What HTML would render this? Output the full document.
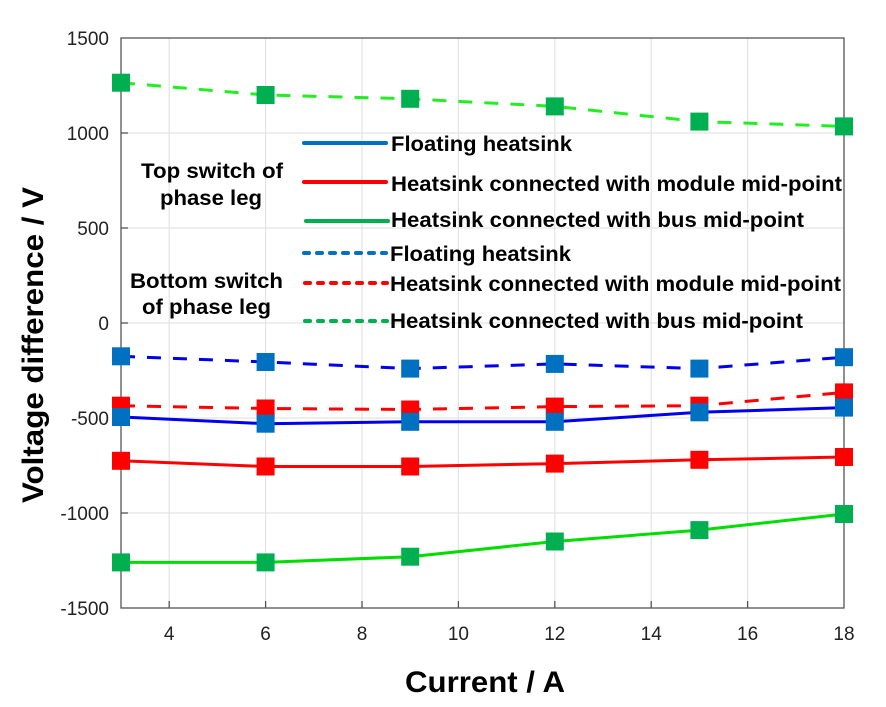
<!DOCTYPE html>
<html><head><meta charset="utf-8"><style>html,body{margin:0;padding:0;background:#fff}</style></head><body>
<svg width="886" height="702" xmlns="http://www.w3.org/2000/svg" font-family="Liberation Sans, sans-serif">
<rect width="886" height="702" fill="#fff"/>
<g stroke="#e3e3e3" stroke-width="1.2">
<line x1="169.2" y1="38" x2="169.2" y2="608"/><line x1="265.6" y1="38" x2="265.6" y2="608"/><line x1="362" y1="38" x2="362" y2="608"/><line x1="458.4" y1="38" x2="458.4" y2="608"/><line x1="554.8" y1="38" x2="554.8" y2="608"/><line x1="651.2" y1="38" x2="651.2" y2="608"/><line x1="747.6" y1="38" x2="747.6" y2="608"/>
<line x1="121" y1="133" x2="844" y2="133"/><line x1="121" y1="228" x2="844" y2="228"/><line x1="121" y1="323" x2="844" y2="323"/><line x1="121" y1="418" x2="844" y2="418"/><line x1="121" y1="513" x2="844" y2="513"/>
</g>
<rect x="121" y="38" width="723" height="570" fill="none" stroke="#555" stroke-width="1.3"/>
<g stroke="#555" stroke-width="1.3">
<line x1="121" y1="133" x2="128" y2="133"/><line x1="121" y1="228" x2="128" y2="228"/><line x1="121" y1="323" x2="128" y2="323"/><line x1="121" y1="418" x2="128" y2="418"/><line x1="121" y1="513" x2="128" y2="513"/>
<line x1="169.2" y1="608" x2="169.2" y2="601"/><line x1="265.6" y1="608" x2="265.6" y2="601"/><line x1="362" y1="608" x2="362" y2="601"/><line x1="458.4" y1="608" x2="458.4" y2="601"/><line x1="554.8" y1="608" x2="554.8" y2="601"/><line x1="651.2" y1="608" x2="651.2" y2="601"/><line x1="747.6" y1="608" x2="747.6" y2="601"/>
</g>
<g font-size="19" fill="#222" text-anchor="end">
<text x="109" y="45">1500</text><text x="109" y="140">1000</text><text x="109" y="235">500</text><text x="109" y="330">0</text><text x="109" y="425">-500</text><text x="109" y="520">-1000</text><text x="109" y="615">-1500</text>
</g>
<g font-size="19" fill="#222" text-anchor="middle">
<text x="169.2" y="640">4</text><text x="265.6" y="640">6</text><text x="362" y="640">8</text><text x="458.4" y="640">10</text><text x="554.8" y="640">12</text><text x="651.2" y="640">14</text><text x="747.6" y="640">16</text><text x="844" y="640">18</text>
</g>
<text x="405" y="692" font-size="30" font-weight="bold" textLength="160" lengthAdjust="spacingAndGlyphs">Current / A</text>
<text transform="translate(43,503) rotate(-90)" font-size="30" font-weight="bold" textLength="316" lengthAdjust="spacingAndGlyphs">Voltage difference / V</text>
<g fill="none" stroke-width="3">
<polyline stroke="#22ee22" stroke-dasharray="14,12" points="121,82.7 265.6,95 410.2,98.8 554.8,106.4 699.4,121.6 844,126.4"/>
<polyline stroke="#0000ee" stroke-dasharray="14,12" points="121,356.3 265.6,362 410.2,368.6 554.8,363.9 699.4,368.6 844,357.2"/>
<polyline stroke="#ff0000" stroke-dasharray="14,12" points="121,405.7 265.6,408.5 410.2,409.5 554.8,406.6 699.4,405.7 844,392.4"/>
<polyline stroke="#0000ee" points="121,417 265.6,423.7 410.2,421.8 554.8,421.8 699.4,412.3 844,407.6"/>
<polyline stroke="#ff0000" points="121,460.8 265.6,466.5 410.2,466.5 554.8,463.6 699.4,459.8 844,457"/>
<polyline stroke="#00dd00" points="121,562.4 265.6,562.4 410.2,556.7 554.8,541.5 699.4,530.1 844,514"/>
</g>
<g fill="#00b050">
<rect x="112" y="73.7" width="18" height="18"/><rect x="256.6" y="86" width="18" height="18"/><rect x="401.2" y="89.8" width="18" height="18"/><rect x="545.8" y="97.4" width="18" height="18"/><rect x="690.4" y="112.6" width="18" height="18"/><rect x="835" y="117.4" width="18" height="18"/>
<rect x="112" y="553.4" width="18" height="18"/><rect x="256.6" y="553.4" width="18" height="18"/><rect x="401.2" y="547.7" width="18" height="18"/><rect x="545.8" y="532.5" width="18" height="18"/><rect x="690.4" y="521.1" width="18" height="18"/><rect x="835" y="505" width="18" height="18"/>
</g>
<g fill="#0070c0">
<rect x="112" y="347.3" width="18" height="18"/><rect x="256.6" y="353" width="18" height="18"/><rect x="401.2" y="359.6" width="18" height="18"/><rect x="545.8" y="354.9" width="18" height="18"/><rect x="690.4" y="359.6" width="18" height="18"/><rect x="835" y="348.2" width="18" height="18"/>
</g>
<g fill="#ff0000">
<rect x="112" y="396.7" width="18" height="18"/><rect x="256.6" y="399.5" width="18" height="18"/><rect x="401.2" y="400.5" width="18" height="18"/><rect x="545.8" y="397.6" width="18" height="18"/><rect x="690.4" y="396.7" width="18" height="18"/><rect x="835" y="383.4" width="18" height="18"/>
<rect x="112" y="451.8" width="18" height="18"/><rect x="256.6" y="457.5" width="18" height="18"/><rect x="401.2" y="457.5" width="18" height="18"/><rect x="545.8" y="454.6" width="18" height="18"/><rect x="690.4" y="450.8" width="18" height="18"/><rect x="835" y="448" width="18" height="18"/>
</g>
<g fill="#0070c0">
<rect x="112" y="408" width="18" height="18"/><rect x="256.6" y="414.7" width="18" height="18"/><rect x="401.2" y="412.8" width="18" height="18"/><rect x="545.8" y="412.8" width="18" height="18"/><rect x="690.4" y="403.3" width="18" height="18"/><rect x="835" y="398.6" width="18" height="18"/>
</g>
<g fill="none" stroke-width="4" stroke-linecap="round">
<line x1="304" y1="143" x2="386" y2="143" stroke="#0070c0"/>
<line x1="304" y1="182" x2="386" y2="182" stroke="#ff0000"/>
<line x1="306" y1="221" x2="388" y2="221" stroke="#00b050"/>
<line x1="304" y1="253" x2="386" y2="253" stroke="#0070c0" stroke-dasharray="5,8"/>
<line x1="305" y1="283" x2="387" y2="283" stroke="#ff0000" stroke-dasharray="5,8"/>
<line x1="305" y1="321" x2="387" y2="321" stroke="#00b050" stroke-dasharray="5,8"/>
</g>
<g font-size="21" font-weight="bold" fill="#000" lengthAdjust="spacingAndGlyphs">
<text x="391" y="151" textLength="181" lengthAdjust="spacingAndGlyphs">Floating heatsink</text>
<text x="391" y="191" textLength="451" lengthAdjust="spacingAndGlyphs">Heatsink connected with module mid-point</text>
<text x="391" y="227" textLength="413" lengthAdjust="spacingAndGlyphs">Heatsink connected with bus mid-point</text>
<text x="390" y="261" textLength="181" lengthAdjust="spacingAndGlyphs">Floating heatsink</text>
<text x="390" y="291" textLength="451" lengthAdjust="spacingAndGlyphs">Heatsink connected with module mid-point</text>
<text x="390" y="328" textLength="413" lengthAdjust="spacingAndGlyphs">Heatsink connected with bus mid-point</text>
</g>
<g font-size="21" font-weight="bold" fill="#000">
<text x="141" y="178" textLength="142" lengthAdjust="spacingAndGlyphs">Top switch of</text>
<text x="160" y="205" textLength="102" lengthAdjust="spacingAndGlyphs">phase leg</text>
<text x="130" y="288" textLength="153" lengthAdjust="spacingAndGlyphs">Bottom switch</text>
<text x="142" y="314" textLength="129" lengthAdjust="spacingAndGlyphs">of phase leg</text>
</g>
</svg>
</body></html>
